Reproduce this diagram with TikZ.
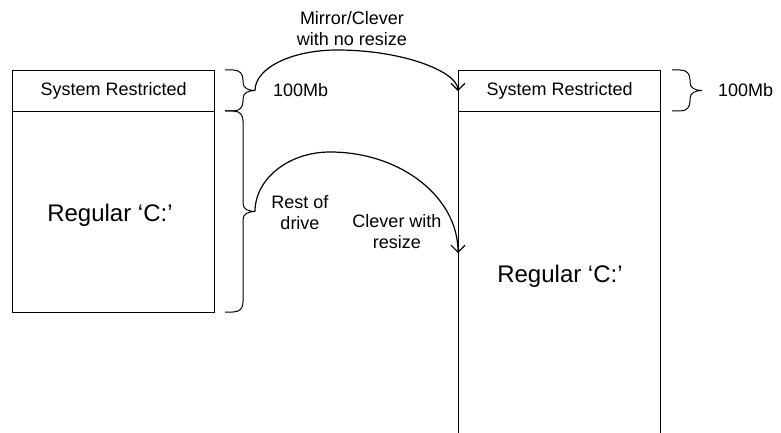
\documentclass[tikz,border=0pt]{standalone}
\usepackage{fontspec}
\setmainfont{Liberation Sans}
\usetikzlibrary{arrows.meta}
\tikzset{
  box/.style={draw, line width=1.3pt, minimum width=202pt, inner sep=0pt, anchor=north west},
  lbl/.style={font=\fontsize{18}{21}\selectfont, align=center, inner sep=0pt},
  big/.style={font=\fontsize{24}{28}\selectfont, inner sep=0pt},
  conn/.style={line width=1.2pt, -{Straight Barb[length=7pt,width=14pt,line width=1.2pt]}},
  bracestyle/.style={line width=1pt},
}
\newcommand\mybrace[3]{% x, ytop, ybot
  \draw[bracestyle] (#1,#2) -- ({#1+8},#2)
    .. controls ({#1+15},#2) and ({#1+18},{#2+4}) .. ({#1+18},{#2+10})
    -- ({#1+18},{(#2+#3)/2-8})
    .. controls ({#1+18},{(#2+#3)/2-2}) and ({#1+24},{(#2+#3)/2}) .. ({#1+30},{(#2+#3)/2})
    .. controls ({#1+24},{(#2+#3)/2}) and ({#1+18},{(#2+#3)/2+2}) .. ({#1+18},{(#2+#3)/2+8})
    -- ({#1+18},{#3-10})
    .. controls ({#1+18},{#3-4}) and ({#1+15},#3) .. ({#1+8},#3) -- (#1,#3);
}
\begin{document}
\begin{tikzpicture}[x=1pt,y=-1pt]
  \useasboundingbox (0,0) rectangle (781,433);
  \clip (0,0) rectangle (781,433);

  % left disk
  \node[box, minimum height=41pt, lbl] (sysL) at (12,70) {System Restricted};
  \node[box, minimum height=201pt, big] (regL) at (12,111) {};
  \node[big] (regLtext) at (110,215) {Regular ‘C:’};

  % right disk (open at bottom)
  \node[box, minimum height=41pt, lbl] (sysR) at (458,70) {System Restricted};
  \node[box, minimum height=400pt] (regR) at (458,111) {};
  \node[big] (regRtext) at (560,276) {Regular ‘C:’};

  % braces
  \mybrace{225}{70}{111}
  \mybrace{225}{111}{312}
  \mybrace{672}{70}{111}
  \coordinate (tipA) at (255,90.5);
  \coordinate (tipB) at (255,211.5);
  \coordinate (endB) at (458,253);

  % labels
  \node[lbl, anchor=west] (mbL) at (273,90.5) {100Mb};
  \node[lbl, anchor=west] (mbR) at (718,90.5) {100Mb};
  \node[lbl] (mirror) at (352,29) {Mirror/Clever\\with no resize};
  \node[lbl] (rest) at (300,212.5) {Rest of\\drive};
  \node[lbl] (clever) at (397,231.5) {Clever with\\resize};

  % connectors
  \draw[conn] (tipA) .. controls (255,68) and (291.7,50) .. (337,50)
                    .. controls (403.8,50) and (458,72) .. (sysR.west);
  \draw[conn] (tipB) .. controls (255,178.9) and (288.6,152) .. (330,152)
                    .. controls (400.7,152) and (458,197.2) .. (endB);
\end{tikzpicture}
\end{document}
